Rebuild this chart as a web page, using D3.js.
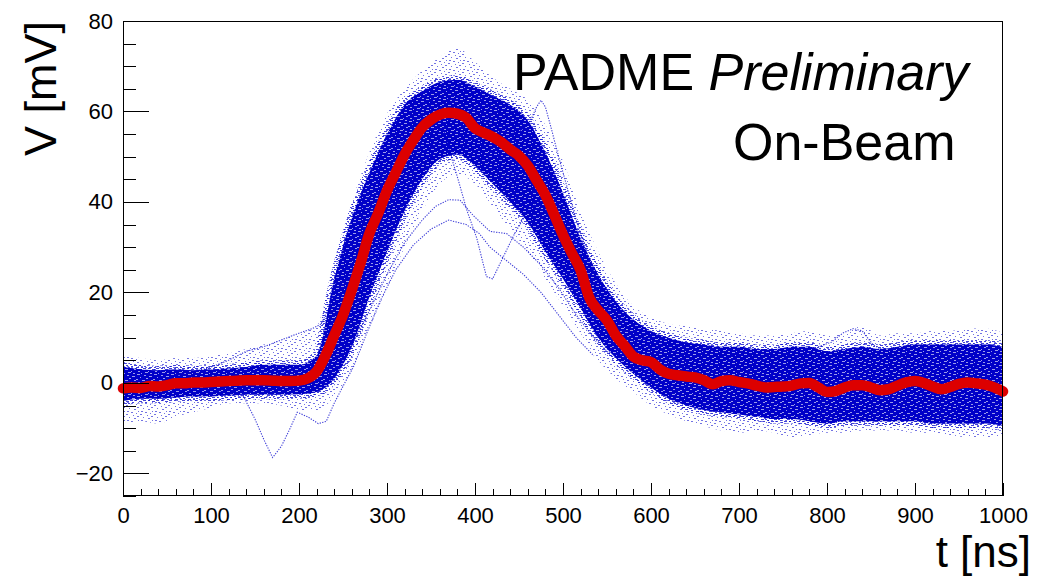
<!DOCTYPE html>
<html lang="en">
  <head>
    <meta charset="utf-8">
    <title>PADME waveforms</title>
    <style>
    body { margin: 0; background: #fff; }
    svg { display: block; font-family: "Liberation Sans", Arial, Helvetica, sans-serif; }
    .axis text { font-size: 22px; fill: #000; }
    .axis line { stroke: #000; shape-rendering: crispEdges; }
    .axis path { display: none; }
    </style>
    <script src="https://cdn.jsdelivr.net/npm/d3@7"></script>
  </head>
  <body>
    <script>

      // --- data ---

      // average waveform (red), every 10 ns
      var meanTime = [0,10,20,30,40,50,60,70,80,90,100,110,120,130,140,150,160,170,180,190,
        200,210,220,230,240,250,260,270,280,290,300,310,320,330,340,350,360,370,380,390,
        400,410,420,430,440,450,460,470,480,490,500,510,520,530,540,550,560,570,580,590,
        600,610,620,630,640,650,660,670,680,690,700,710,720,730,740,750,760,770,780,790,
        800,810,820,830,840,850,860,870,880,890,900,910,920,930,940,950,960,970,980,990,1000];
      var meanV = [-1.2,-1.0,-1.1,-0.7,-0.8,-0.5,-0.1,-0.1,0.1,0.1,0.2,0.3,0.4,0.5,0.6,0.6,0.6,0.5,0.4,0.4,
        0.5,1.0,2.5,6.0,10.5,15.0,20.5,26.5,33.0,37.5,42.5,46.5,50.5,53.7,56.5,58.2,59.3,59.7,59.5,58.6,
        56.3,55.3,54.4,53.2,51.6,50.2,48.0,44.8,41.5,37.2,32.7,28.7,24.9,18.8,16.0,13.8,10.5,8.2,5.8,5.0,
        4.6,3.0,2.0,1.7,1.4,1.2,0.6,-0.3,0.4,0.6,0.2,-0.1,-0.6,-1.0,-0.9,-0.8,-0.6,-0.1,0.0,-1.0,
        -2.0,-1.8,-1.0,-0.5,-0.5,-1.0,-1.6,-1.4,-0.6,0.1,0.4,0.0,-0.8,-1.4,-0.9,-0.2,0.1,-0.1,-0.4,-1.0,-1.9];

      // spread of the single waveforms (blue), every 20 ns
      var bandTime = [0,20,40,60,80,100,120,140,160,180,200,220,240,260,280,300,320,340,360,380,
        400,420,440,460,480,500,520,540,560,580,600,620,640,660,680,700,720,740,760,780,
        800,820,840,860,880,900,920,940,960,980,1000];
      var outerHi = [6,5.5,5,5.5,5.5,6,6.5,7.5,8.5,9.5,11,12.5,27,40,51,59.5,65,69,72,74,
        71,67.5,65,62.5,57,49,38,29,22,17,14.5,13,12.5,12,11.5,11,10.5,10.5,11,11.5,
        10.5,11,12.5,10.5,11,11,11.5,11.5,12,12,11];
      var coreHi = [3.5,3,2.8,3,2.8,3,3.2,3.5,4,4,4,6,23,36.5,46.5,55,61.5,64.5,66.5,67,
        65.5,63.5,61.5,58,51,42,32,24,18,14,11.5,10,9,8.5,8,8,7.5,7.5,8,8,
        7,7.5,8,7.5,8,8.5,8.5,8.5,8.5,8.5,8];
      var coreLo = [-4,-3.5,-3.5,-3.2,-3,-3,-2.8,-2.6,-2.6,-2.6,-2.5,-2,1,8,19,29,38,45,49.5,50.5,
        48,44,40,35.5,29,23,16.5,10,5.5,2,-1,-3.5,-5,-6,-6.5,-7,-7.5,-8,-8,-8.5,
        -9,-8.5,-8.5,-8.5,-8.5,-8.5,-9,-9,-9,-9,-9.5];
      var outerLo = [-9,-8.5,-9,-7.5,-6.5,-5.5,-4.5,-4.5,-4.5,-5,-6,-6,-3,3,12,21,30,38,44,46,
        44,39,34,29,23,17,11,5,1,-2,-5,-7,-8.5,-9.5,-10.5,-11,-10.5,-11,-12,-11.5,
        -11,-11,-10.5,-10.5,-10.5,-11,-11,-11.5,-12,-12,-12];

      // a few single waveforms that stand out of the band, [t, V]
      var traceDip = [[110,-2],[125,-2.5],[137,-3],[150,-8],[160,-12.5],[170,-16.5],[180,-14],
        [190,-10],[198,-6.5],[210,-7.5],[222,-9],[231,-8.5],[240,-4.5],[252,0],[262,3.6],
        [277,11],[292,18],[310,25],[330,30.5],[350,34],[370,36],[390,35],[405,33],[417,30],
        [436,27],[455,24],[475,20],[495,15],[515,10],[535,6]];
      var traceLow = [[230,-1],[245,3],[262,9],[280,16],[300,24],[320,31],[340,36],[355,39],
        [370,40.5],[383,40.4],[398,37],[417,33.5],[436,33],[455,30],[475,26],[495,21],
        [515,15],[535,10],[555,6]];
      var traceNotch = [[340,57],[360,59],[373,50],[380,45.5],[391,38],[402,32],[413,23.5],
        [420,23],[430,27],[445,33],[460,38],[472,40],[490,36],[510,29],[530,22]];
      var traceSpike = [[440,55],[455,56],[463,58],[470,61],[475,62.5],[480,61],[487,56],
        [495,50],[505,43],[515,36],[525,30],[540,22]];
      var tracePre = [[60,1.5],[80,2.5],[100,3.5],[120,5],[140,7],[160,8],[180,9.5],
        [200,11],[215,12],[225,13],[235,17],[245,25],[255,33]];
      var traceTail = [[790,8],[805,9],[818,11],[830,12],[840,11.5],[852,8.5],[865,7]];

      var yMajorTicks = [-20, 0, 20, 40, 60, 80];
      var xMajorTicks = [0, 100, 200, 300, 400, 500, 600, 700, 800, 900, 1000];

      // --- drawing ---
      var width = 1041, height = 580;
      var svg = d3.select("body").append("svg")
          .attr("width", width)
          .attr("height", height);

      svg.append("rect").attr("width", width).attr("height", height).attr("fill", "#fff");

      var x = d3.scaleLinear().domain([0, 1000]).range([123, 1003]);
      var y = d3.scaleLinear().domain([-25, 80]).range([496, 21]);

      // textures for the band of waveforms (many thin dotted traces)
      var defs = svg.append("defs");
      var core = defs.append("pattern").attr("id", "core")
          .attr("patternUnits", "userSpaceOnUse").attr("width", 17).attr("height", 11);
      core.append("rect").attr("width", 17).attr("height", 11).attr("fill", "#0000c8");
      [[1,0,3],[8,1,2],[13,2,3],[4,3,1],[10,4,2],[0,5,2],[15,6,2],[6,6,3],[12,8,1],[2,8,2],
       [9,9,3],[14,10,2],[5,10,1]].forEach(function(p) {
        core.append("rect").attr("x", p[0]).attr("y", p[1]).attr("width", p[2]).attr("height", 1)
          .attr("fill", "#fff").attr("opacity", 0.6);
      });
      var mid = defs.append("pattern").attr("id", "mid")
          .attr("patternUnits", "userSpaceOnUse").attr("width", 13).attr("height", 8);
      [[0,0,3],[5,0,2],[9,1,3],[2,2,2],[7,3,3],[11,3,2],[0,4,2],[4,5,3],[9,5,2],[1,6,2],[6,7,3],[11,7,2]]
        .forEach(function(p) {
          mid.append("rect").attr("x", p[0]).attr("y", p[1]).attr("width", p[2]).attr("height", 1)
            .attr("fill", "#0000cc").attr("opacity", 0.75);
        });
      var outer = defs.append("pattern").attr("id", "outer")
          .attr("patternUnits", "userSpaceOnUse").attr("width", 14).attr("height", 9);
      [[0,0,2],[7,1,1],[11,2,2],[3,3,1],[8,4,2],[1,6,2],[12,6,1],[5,7,2],[10,8,1]].forEach(function(p) {
        outer.append("rect").attr("x", p[0]).attr("y", p[1]).attr("width", p[2]).attr("height", 1)
          .attr("fill", "#0000cc").attr("opacity", 0.55);
      });

      svg.append("clipPath").attr("id", "frame")
        .append("rect").attr("x", 123).attr("y", 21).attr("width", 880).attr("height", 475);

      var plot = svg.append("g").attr("clip-path", "url(#frame)");

      var area = function(hi, lo) {
        return d3.area()
          .x(function(d, i) { return x(bandTime[i]); })
          .y0(function(d, i) { return y(lo[i]); })
          .y1(function(d, i) { return y(hi[i]); })
          .curve(d3.curveMonotoneX)(bandTime);
      };

      plot.append("path").attr("d", area(outerHi, outerLo)).attr("fill", "url(#outer)");
      // soft edge of the dense part
      plot.append("path").attr("d", area(coreHi, coreLo))
          .attr("fill", "none").attr("stroke", "url(#mid)").attr("stroke-width", 9)
          .attr("stroke-linejoin", "round");
      plot.append("path").attr("d", area(coreHi, coreLo)).attr("fill", "url(#core)");

      var traceLine = d3.line()
          .x(function(d) { return x(d[0]); })
          .y(function(d) { return y(d[1]); });

      [traceDip, traceLow, traceNotch, traceSpike, tracePre, traceTail].forEach(function(tr) {
        plot.append("path")
          .attr("d", traceLine(tr))
          .attr("fill", "none")
          .attr("stroke", "#0000cc")
          .attr("stroke-width", 1.1)
          .attr("stroke-dasharray", "1.3,1.3")
          .attr("opacity", 0.75);
      });

      // average waveform
      var meanLine = d3.line()
          .x(function(d, i) { return x(meanTime[i]); })
          .y(function(d) { return y(d); })
          .curve(d3.curveMonotoneX);

      svg.append("path")
          .attr("d", meanLine(meanV))
          .attr("fill", "none")
          .attr("stroke", "#dd0000")
          .attr("stroke-width", 10.5)
          .attr("stroke-linecap", "round")
          .attr("stroke-linejoin", "round");

      // axes, ticks pointing inside like ROOT
      svg.append("g").attr("class", "axis")
          .attr("transform", "translate(123,0)")
          .call(d3.axisLeft(y).tickValues(yMajorTicks).tickSize(-26).tickPadding(10).tickFormat(d3.format("d")));
      svg.append("g").attr("class", "axis")
          .attr("transform", "translate(123,0)")
          .call(d3.axisLeft(y).tickValues(d3.range(-25, 81, 5).filter(function(v) { return v % 20 !== 0; }))
            .tickSize(-13).tickFormat(""));

      svg.append("g").attr("class", "axis")
          .attr("transform", "translate(0,496)")
          .call(d3.axisBottom(x).tickValues(xMajorTicks).tickSize(-13).tickPadding(11).tickFormat(d3.format("d")));
      svg.append("g").attr("class", "axis")
          .attr("transform", "translate(0,496)")
          .call(d3.axisBottom(x).tickValues(d3.range(0, 1001, 20).filter(function(v) { return v % 100 !== 0; }))
            .tickSize(-7).tickFormat(""));

      svg.append("rect")
          .attr("x", 123.5).attr("y", 21.5).attr("width", 879).attr("height", 474)
          .attr("fill", "none").attr("stroke", "#000").attr("stroke-width", 1);

      // titles
      svg.append("text")
          .attr("transform", "translate(56,21) rotate(-90)")
          .attr("text-anchor", "end")
          .attr("font-size", 45)
          .text("V [mV]");

      svg.append("text")
          .attr("x", 1031).attr("y", 567)
          .attr("text-anchor", "end")
          .attr("font-size", 44)
          .text("t [ns]");

      var label = svg.append("text")
          .attr("x", 513).attr("y", 90)
          .attr("font-size", 52);
      label.append("tspan").text("PADME ");
      label.append("tspan").attr("font-style", "italic").text("Preliminary");

      svg.append("text")
          .attr("x", 733).attr("y", 160)
          .attr("font-size", 52)
          .text("On-Beam");

    </script>
  </body>
</html>
